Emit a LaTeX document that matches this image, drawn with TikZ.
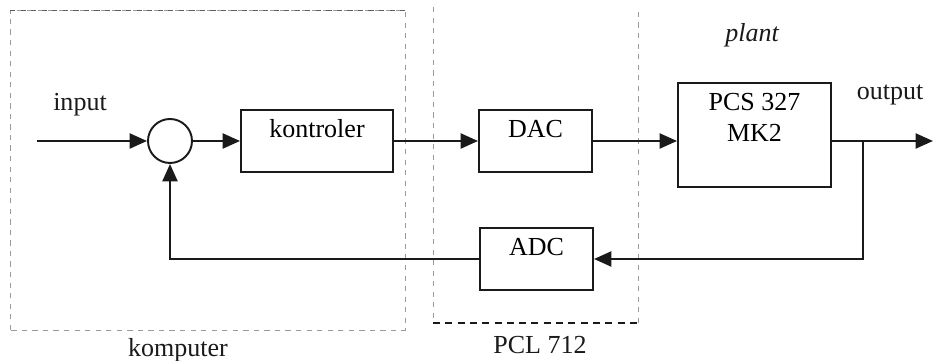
\documentclass[tikz,border=0pt]{standalone}
\usepackage{fontspec}
\setmainfont{Liberation Serif}
\usepackage{xcolor}
\definecolor{ctlline}{HTML}{1A1A1A}
\definecolor{ctldash}{HTML}{9A9A9A}
\usetikzlibrary{arrows.meta,positioning,calc}

\begin{document}
\begin{tikzpicture}[
  blok/.style={draw=ctlline, line width=1.1pt, minimum width=2.26cm,
               minimum height=1.24cm, inner sep=0pt,
               text height=0.56cm, text depth=0.68cm,
               font=\fontsize{14.8}{18}\selectfont},
  sum/.style={draw=ctlline, circle, line width=1.1pt,
              minimum size=0.88cm, inner sep=0pt},
  lbl/.style={font=\fontsize{14.8}{18}\selectfont, text=ctlline},
  sig/.style={draw=ctlline, line width=1.4pt,
              -{Triangle[length=3.5mm,width=3mm]}},
  area/.style={draw=ctldash, dashed, line width=0.5pt}
]
\useasboundingbox[fill=white] (0,0) rectangle (18.78,7.22);

%% Group borders
\draw[area] (0.2,0.62) rectangle (8.1,7.02);
\draw[area, draw=ctlline!70] (0.2,7.02) -- (8.1,7.02);
\draw[area] (8.66,7.08) -- (8.66,0.76) (12.76,0.76) -- (12.76,7.08);
\draw[draw=ctlline, line width=1.2pt, dash pattern=on 4pt off 3pt]
  (8.66,0.76) -- (12.76,0.76);
\node[lbl] (komp) at (3.56,0.22) {komputer};
\node[lbl] (pcl)  at (10.8,0.32) {PCL 712};

%% Blocks
\coordinate (in) at (0.74,4.4);
\node[sum]  (sum)     at (3.4,4.4)   {};
\node[blok, minimum width=3.04cm] (kontrol) at (6.34,4.4) {kontroler};
\node[blok] (dac)     at (10.71,4.4) {DAC};
\node[blok] (adc)     at (10.73,2.04) {ADC};
\node[blok, minimum width=3.06cm, align=center,
      text height=1.18cm, text depth=0.9cm] (pcs) at (15.09,4.52)
  {PCS 327\\MK2};
\coordinate (cab) at (17.26,4.4);
\coordinate (out) at (18.66,4.4);

\node[lbl] (inp)  at (1.6,5.12)   {input};
\node[lbl, font=\fontsize{14.8}{18}\selectfont\itshape] (plnt) at (15.04,6.52) {plant};
\node[lbl] (outp) at (17.8,5.32)  {output};

%% Signals
\draw[sig] (in) -- (sum.west);
\draw[sig] (sum.east) -- (kontrol.west);
\draw[sig] (kontrol.east) -- (dac.west);
\draw[sig] (dac.east) -- (dac.east -| pcs.west);
\draw[sig] (pcs.east |- cab) -- (out);
\draw[sig] (cab) |- (adc.east);
\draw[sig] (adc.west) -| (sum.south);

\end{tikzpicture}
\end{document}
